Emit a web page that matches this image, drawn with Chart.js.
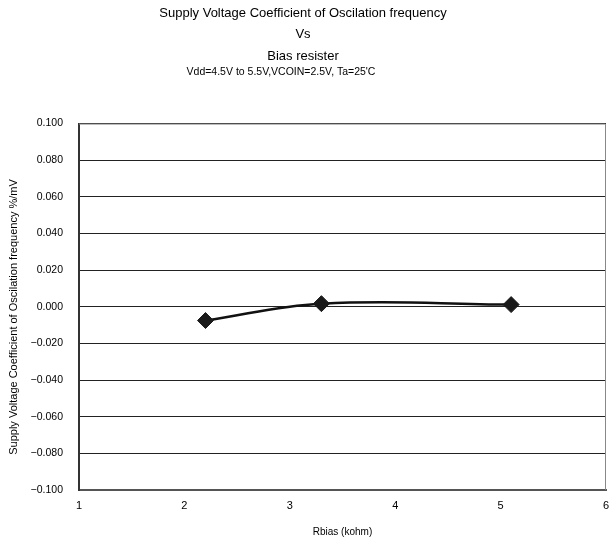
<!DOCTYPE html>
<html>
<head>
<meta charset="utf-8">
<script src="https://cdn.jsdelivr.net/npm/chart.js@4/dist/chart.umd.min.js"></script>
<style>
  html, body { margin: 0; padding: 0; background: #fff; }
  #wrap { width: 610px; height: 540px; }
</style>
</head>
<body>
<div id="wrap"><canvas id="chart" width="610" height="540"></canvas></div>
<script>
// data
const rbias = [2.2, 3.3, 5.1];
const coeff = [-0.0075, 0.0017, 0.0012];
const titleLines = ["Supply Voltage Coefficient of Oscilation frequency", "Vs", "Bias resister"];
const conditions = "Vdd=4.5V to 5.5V,VCOIN=2.5V, Ta=25'C";
const xTitle = "Rbias (kohm)";
const yTitle = "Supply Voltage Coefficient of Oscilation frequency %/mV";

const FONT = "'Liberation Sans', Arial, sans-serif";

// conditions line, y title and frame round the plot area
const extras = {
  id: "extras",
  afterDraw(chart) {
    const { ctx, chartArea: a } = chart;
    ctx.save();
    ctx.strokeStyle = "#888";
    ctx.lineWidth = 1;
    ctx.beginPath();
    ctx.moveTo(a.left, a.top + 0.5);
    ctx.lineTo(a.right - 0.5, a.top + 0.5);
    ctx.lineTo(a.right - 0.5, a.bottom);
    ctx.stroke();

    ctx.fillStyle = "#000";
    ctx.textAlign = "center";
    ctx.textBaseline = "middle";
    ctx.font = "10.5px " + FONT;
    ctx.fillText(conditions, 281, 72);

    ctx.font = "11px " + FONT;
    ctx.translate(14, 317);
    ctx.rotate(-Math.PI / 2);
    ctx.fillText(yTitle, 0, 0);
    ctx.restore();
  },
};

new Chart(document.getElementById("chart"), {
  type: "line",
  data: {
    datasets: [
      {
        data: rbias.map((x, i) => ({ x, y: coeff[i] })),
        borderColor: "#111",
        borderWidth: 2.5,
        tension: 0.4,
        pointStyle: "rectRot",
        pointRadius: 8,
        pointBackgroundColor: "#1a1a1a",
        pointBorderColor: "#1a1a1a",
        pointBorderWidth: 1,
      },
    ],
  },
  options: {
    responsive: false,
    animation: false,
    layout: { autoPadding: false, padding: { top: 3, right: 4, left: 0, bottom: 0 } },
    plugins: {
      legend: { display: false },
      tooltip: { enabled: false },
      title: {
        display: true,
        text: titleLines,
        color: "#000",
        font: { family: FONT, size: 13, weight: "normal", lineHeight: 1.63 },
        padding: { top: 0, bottom: 57 },
      },
    },
    scales: {
      x: {
        type: "linear",
        min: 1,
        max: 6,
        afterFit: (s) => {
          s.height = 50;
          s.paddingLeft = 0;
          s.paddingRight = 0;
        },
        ticks: { stepSize: 1, color: "#000", padding: 9, font: { family: FONT, size: 11 } },
        grid: { drawOnChartArea: false, drawTicks: false },
        border: { color: "#555", width: 2 },
        title: {
          display: true,
          text: xTitle,
          color: "#000",
          font: { family: FONT, size: 10 },
          padding: { top: 2, bottom: 2 },
        },
      },
      y: {
        min: -0.1,
        max: 0.1,
        afterFit: (s) => {
          s.width = 79;
        },
        ticks: {
          stepSize: 0.02,
          color: "#000",
          padding: 16,
          font: { family: FONT, size: 10.5 },
          callback: (v) => v.toFixed(3).replace("-", "\u2212"),
        },
        grid: { color: "#222", lineWidth: 1, drawTicks: false },
        border: { color: "#333", width: 2 },
        title: { display: false },
      },
    },
  },
  plugins: [extras],
});
</script>
</body>
</html>
